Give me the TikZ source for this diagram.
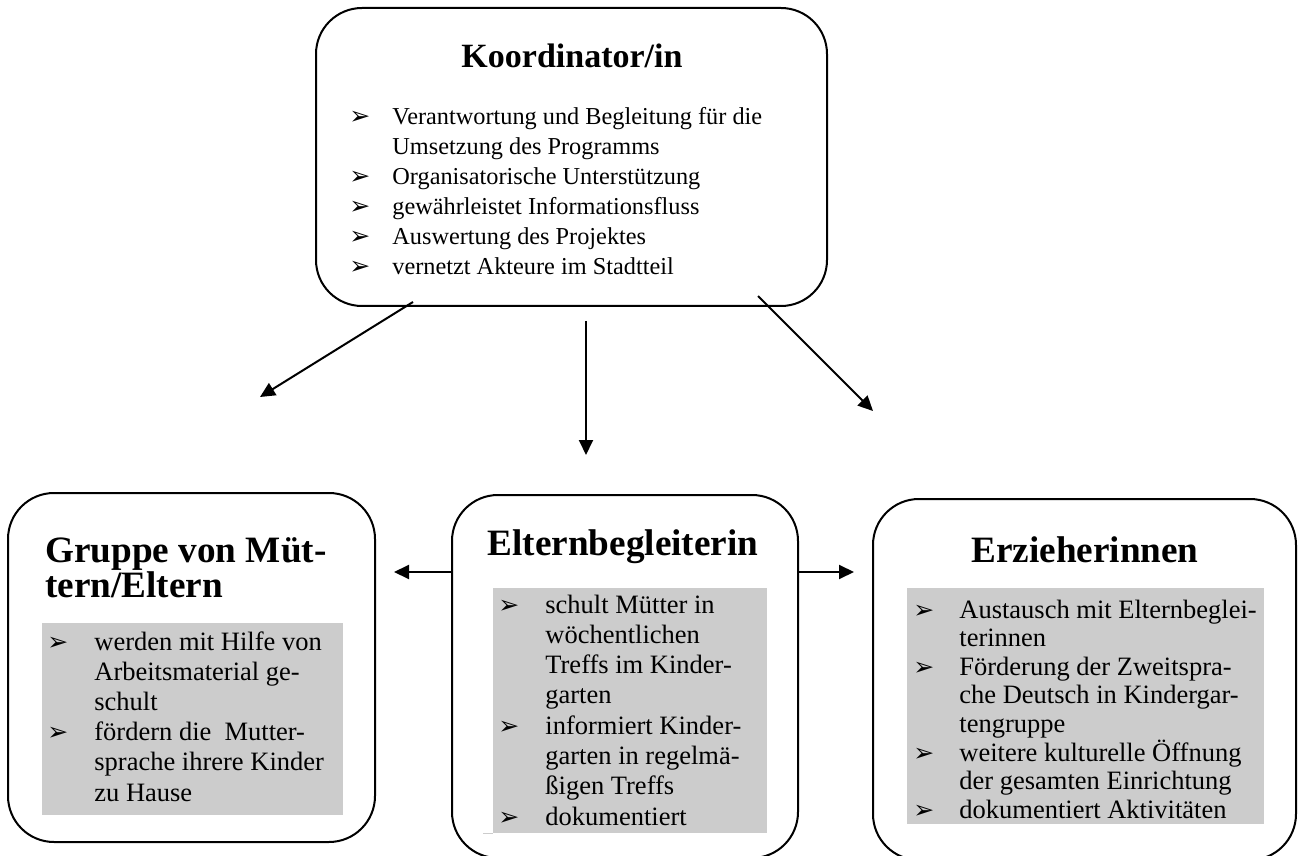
\documentclass[tikz,border=0pt]{standalone}
\usepackage{fontspec}
\setmainfont{Liberation Serif}
\newfontfamily\bulletfont{DejaVu Sans}
\usetikzlibrary{arrows.meta}
\definecolor{greyfill}{HTML}{CCCCCC}
\begin{document}
\begin{tikzpicture}[x=0.5pt,y=-0.5pt,
  roundbox/.style={draw, line width=1pt, rounded corners=23pt, inner sep=0pt},
  toptitle/.style={font=\fontsize{17}{20}\selectfont\bfseries, inner sep=0pt, anchor=base},
  title/.style={font=\fontsize{18.6}{22}\selectfont\bfseries, inner sep=0pt},
  topbody/.style={font=\fontsize{12.15}{15}\selectfont, inner sep=0pt, anchor=base west},
  body/.style={font=\fontsize{13.25}{15}\selectfont, inner sep=0pt, anchor=base west},
  bul/.style={font=\bulletfont\fontsize{12.5}{14}\selectfont, inner sep=0pt, anchor=base west},
  arr/.style={-{Triangle[length=7.5pt,width=7pt]}, line width=1pt}
]
\useasboundingbox (0,0) rectangle (1298,856);

% boxes
\node[roundbox, minimum width=255.5pt, minimum height=149pt] (koord) at (571.5,157) {};
\node[roundbox, minimum width=183.5pt, minimum height=174.5pt] (mutter) at (191.5,667.5) {};
\node[roundbox, minimum width=173pt, minimum height=181.5pt] (eltern) at (625,676.5) {};
\node[roundbox, minimum width=211.5pt, minimum height=180.5pt] (erz) at (1084.5,679.5) {};

% grey backgrounds
\fill[greyfill] (42,623) rectangle (343,815);
\fill[greyfill] (493,588) rectangle (767,833);
\draw[greyfill, line width=0.5pt] (483,833) -- (493,833);
\fill[greyfill] (907,588) rectangle (1264,824);

% top box text
\node[toptitle] (ktitle) at (572,68) {Koordinator/in};
\foreach \t [count=\i] in {Verantwortung und Begleitung für die,Umsetzung des Programms,Organisatorische Unterstützung,gewährleistet Informationsfluss,Auswertung des Projektes,vernetzt Akteure im Stadtteil}
  \node[topbody] (kline\i) at (392,{125+30*(\i-1)}) {\t};
\foreach \i in {1,3,4,5,6}
  \node[bul] (kbul\i) at (349,{125+30*(\i-1)}) {➢};

% left box text
\node[title, anchor=base west] (mtitle1) at (45,562) {Gruppe von Müt-};
\node[title, anchor=base west] (mtitle2) at (45,597) {tern/Eltern};
\foreach \t [count=\i] in {werden mit Hilfe von,Arbeitsmaterial ge-,schult,fördern die\ \ Mutter-,sprache ihrere Kinder,zu Hause}
  \node[body] (mline\i) at (94,{650+30.2*(\i-1)}) {\t};
\foreach \i in {1,4}
  \node[bul] (mbul\i) at (47,{650+30.2*(\i-1)}) {➢};

% middle box text
\node[title, anchor=base] (etitle) at (623,555) {Elternbegleiterin};
\foreach \t [count=\i] in {schult Mütter in,wöchentlichen,Treffs im Kinder-,garten,informiert Kinder-,garten in regelmä-,ßigen Treffs,dokumentiert}
  \node[body] (eline\i) at (545,{613+30.3*(\i-1)}) {\t};
\foreach \i in {1,5,8}
  \node[bul] (ebul\i) at (498,{613+30.3*(\i-1)}) {➢};

% right box text
\node[title, anchor=base] (ztitle) at (1085,562) {Erzieherinnen};
\foreach \t [count=\i] in {Austausch mit Elternbeglei-,terinnen,Förderung der Zweitspra-,che Deutsch in Kindergar-,tengruppe,weitere kulturelle Öffnung,der gesamten Einrichtung,dokumentiert Aktivitäten}
  \node[body] (zline\i) at (959,{618+28.6*(\i-1)}) {\t};
\foreach \i in {1,3,6,8}
  \node[bul] (zbul\i) at (913,{618+28.6*(\i-1)}) {➢};

% connectors
\coordinate (s1) at (413,302);
\coordinate (e1) at (260,397);
\coordinate (s2) at (586,321);
\coordinate (e2) at (586,455);
\coordinate (s3) at (758,296);
\coordinate (e3) at (873,411);
\coordinate (h1) at (394,572);
\coordinate (h2) at (854,572);
\draw[arr] (s1) -- (e1);
\draw[arr] (s2) -- (e2);
\draw[arr] (s3) -- (e3);
\draw[arr] (eltern.west |- h1) -- (h1);
\draw[arr] (eltern.east |- h2) -- (h2);
\end{tikzpicture}
\end{document}
